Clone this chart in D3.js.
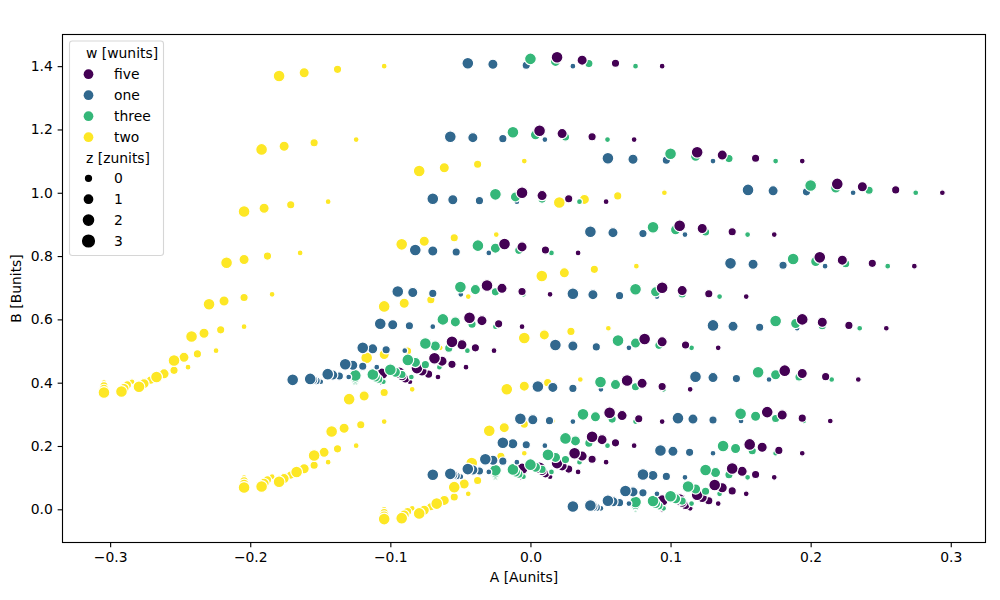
<!DOCTYPE html>
<html>
<head>
<meta charset="utf-8">
<script src="https://cdn.jsdelivr.net/npm/d3@7"></script>
<style>
html, body { margin: 0; padding: 0; background: #fff; }
svg { display: block; font-family: "DejaVu Sans", sans-serif; }
</style>
</head>
<body>
<div id="chart"></div>
<script>
// Category levels. Series are listed in drawing order; the legend lists them alphabetically.
const wLevels = ["one", "two", "three", "five"];
const wLegend = ["five", "one", "three", "two"];
const wColors = ["#440154", "#31688e", "#35b779", "#fde725"];
const zLevels = [0, 1, 2, 3];
const zSizes = [18, 72];
const xTicks = [-0.3, -0.2, -0.1, 0, 0.1, 0.2, 0.3];
const yTicks = [0, 0.2, 0.4, 0.6, 0.8, 1, 1.2, 1.4];

// A values: one table per (w, x), with one row per z and eleven readings along y.
const A_one_0 = [
  [.0303,.0503,.0703,.0903,.1103,.1303,.1503,.1703,.1903,.2103,.2303],
  [.0303,.047,.0636,.0803,.097,.1136,.1303,.147,.1636,.1803,.197],
  [.0303,.0446,.0589,.0732,.0874,.1017,.116,.1303,.1446,.1589,.1732],
  [.0303,.0428,.0553,.0678,.0803,.0928,.1053,.1178,.1303,.1428,.1553]];
const A_one_1 = [
  [-.0697,-.0497,-.0297,-.0097,.0103,.0303,.0503,.0703,.0903,.1103,.1303],
  [-.0697,-.053,-.0364,-.0197,-.003,.0136,.0303,.047,.0636,.0803,.097],
  [-.0697,-.0554,-.0411,-.0268,-.0126,.0017,.016,.0303,.0446,.0589,.0732],
  [-.0697,-.0572,-.0447,-.0322,-.0197,-.0072,.0053,.0178,.0303,.0428,.0553]];
const A_one_2 = [
  [-.1697,-.1497,-.1297,-.1097,-.0897,-.0697,-.0497,-.0297,-.0097,.0103,.0303],
  [-.1697,-.153,-.1364,-.1197,-.103,-.0864,-.0697,-.053,-.0364,-.0197,-.003],
  [-.1697,-.1554,-.1411,-.1268,-.1126,-.0983,-.084,-.0697,-.0554,-.0411,-.0268],
  [-.1697,-.1572,-.1447,-.1322,-.1197,-.1072,-.0947,-.0822,-.0697,-.0572,-.0447]];
const A_two_0 = [
  [-.1044,-.0844,-.0644,-.0444,-.0244,-.0044,.0156,.0356,.0556,.0756,.0956],
  [-.1044,-.0877,-.0711,-.0544,-.0377,-.0211,-.0044,.0123,.0289,.0456,.0623],
  [-.1044,-.0901,-.0758,-.0615,-.0473,-.033,-.0187,-.0044,.0099,.0242,.0385],
  [-.1044,-.0919,-.0794,-.0669,-.0544,-.0419,-.0294,-.0169,-.0044,.0081,.0206]];
const A_two_1 = [
  [-.2044,-.1844,-.1644,-.1444,-.1244,-.1044,-.0844,-.0644,-.0444,-.0244,-.0044],
  [-.2044,-.1877,-.1711,-.1544,-.1377,-.1211,-.1044,-.0877,-.0711,-.0544,-.0377],
  [-.2044,-.1901,-.1758,-.1615,-.1473,-.133,-.1187,-.1044,-.0901,-.0758,-.0615],
  [-.2044,-.1919,-.1794,-.1669,-.1544,-.1419,-.1294,-.1169,-.1044,-.0919,-.0794]];
const A_two_2 = [
  [-.3044,-.2844,-.2644,-.2444,-.2244,-.2044,-.1844,-.1644,-.1444,-.1244,-.1044],
  [-.3044,-.2877,-.2711,-.2544,-.2377,-.2211,-.2044,-.1877,-.1711,-.1544,-.1377],
  [-.3044,-.2901,-.2758,-.2615,-.2473,-.233,-.2187,-.2044,-.1901,-.1758,-.1615],
  [-.3044,-.2919,-.2794,-.2669,-.2544,-.2419,-.2294,-.2169,-.2044,-.1919,-.1794]];
const A_three_0 = [
  [.075,.095,.115,.135,.155,.175,.195,.215,.235,.255,.275],
  [.075,.0917,.1083,.125,.1417,.1583,.175,.1917,.2083,.225,.2417],
  [.075,.0893,.1036,.1179,.1321,.1464,.1607,.175,.1893,.2036,.2179],
  [.075,.0875,.1,.1125,.125,.1375,.15,.1625,.175,.1875,.2]];
const A_three_1 = [
  [-.025,-.005,.015,.035,.055,.075,.095,.115,.135,.155,.175],
  [-.025,-.0083,.0083,.025,.0417,.0583,.075,.0917,.1083,.125,.1417],
  [-.025,-.0107,.0036,.0179,.0321,.0464,.0607,.075,.0893,.1036,.1179],
  [-.025,-.0125,0,.0125,.025,.0375,.05,.0625,.075,.0875,.1]];
const A_three_2 = [
  [-.125,-.105,-.085,-.065,-.045,-.025,-.005,.015,.035,.055,.075],
  [-.125,-.1083,-.0917,-.075,-.0583,-.0417,-.025,-.0083,.0083,.025,.0417],
  [-.125,-.1107,-.0964,-.0821,-.0679,-.0536,-.0393,-.025,-.0107,.0036,.0179],
  [-.125,-.1125,-.1,-.0875,-.075,-.0625,-.05,-.0375,-.025,-.0125,0]];
const A_five_0 = [
  [.094,.114,.134,.154,.174,.194,.214,.234,.254,.274,.294],
  [.094,.1107,.1273,.144,.1607,.1773,.194,.2107,.2273,.244,.2607],
  [.094,.1083,.1226,.1369,.1511,.1654,.1797,.194,.2083,.2226,.2369],
  [.094,.1065,.119,.1315,.144,.1565,.169,.1815,.194,.2065,.219]];
const A_five_1 = [
  [-.006,.014,.034,.054,.074,.094,.114,.134,.154,.174,.194],
  [-.006,.0107,.0273,.044,.0607,.0773,.094,.1107,.1273,.144,.1607],
  [-.006,.0083,.0226,.0369,.0511,.0654,.0797,.094,.1083,.1226,.1369],
  [-.006,.0065,.019,.0315,.044,.0565,.069,.0815,.094,.1065,.119]];
const A_five_2 = [
  [-.106,-.086,-.066,-.046,-.026,-.006,.014,.034,.054,.074,.094],
  [-.106,-.0893,-.0727,-.056,-.0393,-.0227,-.006,.0107,.0273,.044,.0607],
  [-.106,-.0917,-.0774,-.0631,-.0489,-.0346,-.0203,-.006,.0083,.0226,.0369],
  [-.106,-.0935,-.081,-.0685,-.056,-.0435,-.031,-.0185,-.006,.0065,.019]];

// B values, laid out the same way as the A tables.
const B_one_0 = [
  [0,.003,.018,.049,.101,.177,.279,.41,.572,.768,1],
  [.003,.006,.021,.052,.104,.18,.282,.413,.575,.771,1.003],
  [.006,.009,.024,.055,.107,.183,.285,.416,.578,.774,1.006],
  [.009,.012,.027,.058,.11,.186,.288,.419,.581,.777,1.009]];
const B_one_1 = [
  [.1,.103,.118,.149,.201,.277,.379,.51,.672,.868,1.1],
  [.103,.106,.121,.152,.204,.28,.382,.513,.675,.871,1.103],
  [.106,.109,.124,.155,.207,.283,.385,.516,.678,.874,1.106],
  [.109,.112,.127,.158,.21,.286,.388,.519,.681,.877,1.109]];
const B_one_2 = [
  [.4,.403,.418,.449,.501,.577,.679,.81,.972,1.168,1.4],
  [.403,.406,.421,.452,.504,.58,.682,.813,.975,1.171,1.403],
  [.406,.409,.424,.455,.507,.583,.685,.816,.978,1.174,1.406],
  [.409,.412,.427,.458,.51,.586,.688,.819,.981,1.177,1.409]];
const B_two_0 = [
  [0,.003,.018,.049,.101,.177,.279,.41,.572,.768,1],
  [-.01,-.007,.008,.039,.091,.167,.269,.4,.562,.758,.99],
  [-.021,-.018,-.003,.028,.08,.156,.258,.389,.551,.747,.979],
  [-.031,-.028,-.013,.018,.07,.146,.248,.379,.541,.737,.969]];
const B_two_1 = [
  [.1,.103,.118,.149,.201,.277,.379,.51,.672,.868,1.1],
  [.09,.093,.108,.139,.191,.267,.369,.5,.662,.858,1.09],
  [.079,.082,.097,.128,.18,.256,.358,.489,.651,.847,1.079],
  [.069,.072,.087,.118,.17,.246,.348,.479,.641,.837,1.069]];
const B_two_2 = [
  [.4,.403,.418,.449,.501,.577,.679,.81,.972,1.168,1.4],
  [.39,.393,.408,.439,.491,.567,.669,.8,.962,1.158,1.39],
  [.379,.382,.397,.428,.48,.556,.658,.789,.951,1.147,1.379],
  [.369,.372,.387,.418,.47,.546,.648,.779,.941,1.137,1.369]];
const B_three_0 = [
  [0,.003,.018,.049,.101,.177,.279,.41,.572,.768,1],
  [.008,.011,.026,.057,.109,.185,.287,.418,.58,.776,1.008],
  [.015,.018,.033,.064,.116,.192,.294,.425,.587,.783,1.015],
  [.023,.026,.041,.072,.124,.2,.302,.433,.595,.791,1.023]];
const B_three_1 = [
  [.1,.103,.118,.149,.201,.277,.379,.51,.672,.868,1.1],
  [.108,.111,.126,.157,.209,.285,.387,.518,.68,.876,1.108],
  [.115,.118,.133,.164,.216,.292,.394,.525,.687,.883,1.115],
  [.123,.126,.141,.172,.224,.3,.402,.533,.695,.891,1.123]];
const B_three_2 = [
  [.4,.403,.418,.449,.501,.577,.679,.81,.972,1.168,1.4],
  [.408,.411,.426,.457,.509,.585,.687,.818,.98,1.176,1.408],
  [.415,.418,.433,.464,.516,.592,.694,.825,.987,1.183,1.415],
  [.423,.426,.441,.472,.524,.6,.702,.833,.995,1.191,1.423]];
const B_five_0 = [
  [0,.003,.018,.049,.101,.177,.279,.41,.572,.768,1],
  [.009,.012,.027,.058,.11,.186,.288,.419,.581,.777,1.009],
  [.019,.022,.037,.068,.12,.196,.298,.429,.591,.787,1.019],
  [.028,.031,.046,.077,.129,.205,.307,.438,.6,.796,1.028]];
const B_five_1 = [
  [.1,.103,.118,.149,.201,.277,.379,.51,.672,.868,1.1],
  [.109,.112,.127,.158,.21,.286,.388,.519,.681,.877,1.109],
  [.119,.122,.137,.168,.22,.296,.398,.529,.691,.887,1.119],
  [.128,.131,.146,.177,.229,.305,.407,.538,.7,.896,1.128]];
const B_five_2 = [
  [.4,.403,.418,.449,.501,.577,.679,.81,.972,1.168,1.4],
  [.409,.412,.427,.458,.51,.586,.688,.819,.981,1.177,1.409],
  [.419,.422,.437,.468,.52,.596,.698,.829,.991,1.187,1.419],
  [.428,.431,.446,.477,.529,.605,.707,.838,1,1.196,1.428]];

const tablesA = {
  one: [A_one_0, A_one_1, A_one_2], two: [A_two_0, A_two_1, A_two_2],
  three: [A_three_0, A_three_1, A_three_2], five: [A_five_0, A_five_1, A_five_2]
};
const tablesB = {
  one: [B_one_0, B_one_1, B_one_2], two: [B_two_0, B_two_1, B_two_2],
  three: [B_three_0, B_three_1, B_three_2], five: [B_five_0, B_five_1, B_five_2]
};

// Flatten in stacking order: x, then position along y, then z, then w.
const points = [];
for (let xi = 0; xi < 3; xi++) {
  for (let yi = 0; yi < 11; yi++) {
    for (const z of zLevels) {
      for (const w of wLevels) {
        points.push({ w, z, a: tablesA[w][xi][z][yi], b: tablesB[w][xi][z][yi] });
      }
    }
  }
}

const width = 1000, height = 600;
const frame = { left: 62.5, right: 985.5, top: 34.5, bottom: 542.5 };
const ptPx = 100 / 72;

const xScale = d3.scaleLinear().domain([-0.334, 0.3248]).range([frame.left, frame.right]);
const yScale = d3.scaleLinear().domain([-0.1049, 1.5]).range([frame.bottom, frame.top]);
const colorScale = d3.scaleOrdinal().domain(wLegend).range(wColors);
const areaScale = d3.scaleLinear().domain(d3.extent(zLevels)).range(zSizes);
const markerRadius = z => Math.sqrt(areaScale(z)) * ptPx / 2;

const svg = d3.select("#chart").append("svg")
  .attr("width", width).attr("height", height).attr("viewBox", `0 0 ${width} ${height}`);

svg.append("rect").attr("width", width).attr("height", height).attr("fill", "#fff");

// Markers, clipped to the plotting frame.
svg.append("clipPath").attr("id", "plot-clip").append("rect")
  .attr("x", frame.left).attr("y", frame.top)
  .attr("width", frame.right - frame.left).attr("height", frame.bottom - frame.top);

svg.append("g").attr("clip-path", "url(#plot-clip)")
  .selectAll("circle").data(points).join("circle")
  .attr("cx", d => xScale(d.a))
  .attr("cy", d => yScale(d.b))
  .attr("r", d => markerRadius(d.z))
  .attr("fill", d => colorScale(d.w))
  .attr("stroke", "#fff")
  .attr("stroke-width", 1.2);

// Axes
const fmt = d3.format(".1f");
const xAxis = svg.append("g").attr("transform", `translate(0,${frame.bottom})`)
  .call(d3.axisBottom(xScale).tickValues(xTicks).tickFormat(fmt).tickSize(4.86).tickPadding(4.9));
const yAxis = svg.append("g").attr("transform", `translate(${frame.left},0)`)
  .call(d3.axisLeft(yScale).tickValues(yTicks).tickFormat(fmt).tickSize(4.86).tickPadding(4.9));
for (const axis of [xAxis, yAxis]) {
  axis.select(".domain").remove();
  axis.selectAll("line").attr("stroke", "#000").attr("stroke-width", 1.11);
  axis.selectAll("text").attr("fill", "#000").style("font-size", "13.9px")
    .style("font-family", '"DejaVu Sans", sans-serif');
}

svg.append("rect")
  .attr("x", frame.left).attr("y", frame.top)
  .attr("width", frame.right - frame.left).attr("height", frame.bottom - frame.top)
  .attr("fill", "none").attr("stroke", "#000").attr("stroke-width", 1.11);

svg.append("text").attr("x", (frame.left + frame.right) / 2).attr("y", 582)
  .attr("text-anchor", "middle").style("font-size", "13.9px").text("A [Aunits]");
svg.append("text").attr("transform", `translate(21,${(frame.top + frame.bottom) / 2}) rotate(-90)`)
  .attr("text-anchor", "middle").style("font-size", "13.9px").text("B [Bunits]");

// Legend
const legend = svg.append("g");
legend.append("rect")
  .attr("x", 69.5).attr("y", 41).attr("width", 94).attr("height", 214.5).attr("rx", 2.8)
  .attr("fill", "#fff").attr("fill-opacity", 0.8)
  .attr("stroke", "#ccc").attr("stroke-opacity", 0.8).attr("stroke-width", 1.11);

const legendText = (label, x, y) => legend.append("text")
  .attr("x", x).attr("y", y).attr("dy", "0.36em").style("font-size", "13.9px").text(label);

legendText("w [wunits]", 86, 53);
wLegend.forEach((w, i) => {
  const y = 74.2 + i * 21;
  legend.append("circle").attr("cx", 88.5).attr("cy", y)
    .attr("r", markerRadius(1) + 0.7)
    .attr("fill", colorScale(w));
  legendText(w, 114, y);
});
legendText("z [zunits]", 86, 158);
zLevels.forEach((z, i) => {
  const y = 178.3 + i * 20.9;
  legend.append("circle").attr("cx", 88.5).attr("cy", y)
    .attr("r", markerRadius(z))
    .attr("fill", "#000").attr("stroke", "#000").attr("stroke-width", ptPx);
  legendText(String(z), 114, y);
});
</script>
</body>
</html>
